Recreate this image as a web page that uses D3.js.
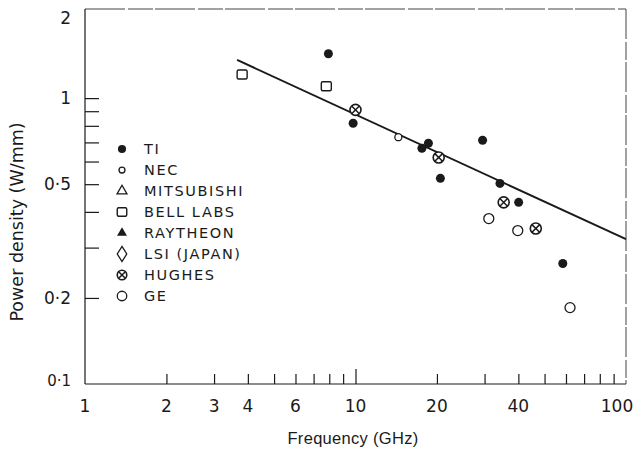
<!DOCTYPE html>
<html>
<head>
<meta charset="UTF-8">
<style>
  body { margin: 0; background: #fff; }
  svg { display: block; }
  text { font-family: "DejaVu Sans", sans-serif; fill: #1a1a1a; }
</style>
</head>
<body>
<svg id="chart" width="639" height="451"></svg>
<script src="https://d3js.org/d3.v7.min.js"></script>
<script>
// readings: [frequency GHz, power density W/mm]
const ti = [[7.94, 1.43], [9.8, 0.817], [17.6, 0.668], [18.6, 0.695], [20.6, 0.524],
            [29.5, 0.712], [34.2, 0.503], [40.1, 0.432], [58.4, 0.264]];
const nec = [[14.4, 0.73]];
const mitsubishi = [];
const bellLabs = [[3.81, 1.21], [7.8, 1.10]];
const raytheon = [];
const lsiJapan = [];
const hughes = [[10, 0.91], [20.3, 0.62], [35.3, 0.432], [46.4, 0.35]];
const ge = [[31.1, 0.379], [39.8, 0.344], [62.1, 0.185]];
const fitLine = [[3.65, 1.36], [100, 0.321]];

const legendNames = ["TI", "NEC", "MITSUBISHI", "BELL LABS", "RAYTHEON", "LSI (JAPAN)", "HUGHES", "GE"];
const xTickLabels = [1, 2, 3, 4, 6, 10, 20, 40, 100];
const yTickLabels = [["2", 2], ["1", 1], ["0·5", 0.5], ["0·2", 0.2], ["0·1", 0.1]];

const svg = d3.select("#chart");
const ink = "#1a1a1a";

const x = d3.scaleLog().domain([1, 100]).range([85, 626]);
const y = d3.scaleLog().domain([0.1, 2.05]).range([384, 9]);

// frame: top and right borders
svg.append("line").attr("x1", x(1)).attr("x2", x(100)).attr("y1", y(2.05)).attr("y2", y(2.05))
  .attr("stroke", "#444").attr("stroke-width", 1).attr("stroke-dasharray", "40 3 25 2");
svg.append("line").attr("x1", x(100)).attr("x2", x(100)).attr("y1", y(2.05)).attr("y2", y(0.1))
  .attr("stroke", "#444").attr("stroke-width", 1).attr("stroke-dasharray", "30 3 18 2");

// bottom axis with inward ticks
const xMinor = [2, 3, 4, 5, 6, 7, 8, 9, 20, 30, 40, 50, 60, 70, 80, 90];
const gx = svg.append("g").attr("transform", `translate(0,${y(0.1)})`)
  .call(d3.axisBottom(x).tickValues(xMinor).tickSize(-10).tickFormat(""));
svg.append("g").attr("transform", `translate(0,${y(0.1)})`)
  .call(d3.axisBottom(x).tickValues([10]).tickSize(-15).tickFormat(""))
  .select(".domain").remove();

// left axis with inward ticks
const yMinor = [0.2, 0.3, 0.4, 0.5, 0.6, 0.7, 0.8, 0.9, 1];
const gy = svg.append("g").attr("transform", `translate(${x(1)},0)`)
  .call(d3.axisLeft(y).tickValues(yMinor).tickSize(-14).tickFormat(""));

svg.selectAll(".domain, .tick line").attr("stroke", ink).attr("stroke-width", 1.2);
gx.select(".domain").attr("d", `M${x(1)},0H${x(100)}`);
gy.select(".domain").attr("d", `M0,${y(0.1)}V${y(2.05)}`);

// tick labels (the 100 sits a little left so it stays on the page)
svg.append("g").selectAll("text").data(xTickLabels).join("text")
  .attr("x", d => d === 100 ? x(d) - 9 : x(d)).attr("y", 412)
  .attr("text-anchor", "middle").attr("font-size", 17)
  .text(d => d);

svg.append("g").selectAll("text").data(yTickLabels).join("text")
  .attr("x", 71).attr("y", d => y(d[1]))
  .attr("dy", d => d[1] === 2 ? "0.7em" : (d[1] === 0.1 ? "0.15em" : "0.36em"))
  .attr("text-anchor", "end").attr("font-size", d => d[1] === 0.1 ? 15 : 17)
  .text(d => d[0]);

// axis titles
svg.append("text").attr("x", 353).attr("y", 444).attr("text-anchor", "middle")
  .style("font-family", "'Liberation Sans', sans-serif")
  .attr("font-size", 16.5).attr("letter-spacing", 0.3).text("Frequency (GHz)");
svg.append("text").attr("transform", "translate(23,222) rotate(-90)").attr("text-anchor", "middle")
  .attr("font-size", 17.5).text("Power density (W/mm)");

// fitted line
svg.append("path").datum(fitLine)
  .attr("d", d3.line().x(d => x(d[0])).y(d => y(d[1])))
  .attr("fill", "none").attr("stroke", ink).attr("stroke-width", 2);

// marker drawing
function marker(g, kind, s) {
  s = s || 1;
  if (kind === "TI") g.append("circle").attr("r", 4.5 * s).attr("fill", ink);
  else if (kind === "NEC") g.append("circle").attr("r", 3.5 * s).attr("fill", "#fff").attr("stroke", ink).attr("stroke-width", 1.3);
  else if (kind === "MITSUBISHI") g.append("path").attr("d", d3.symbol(d3.symbolTriangle, 45 * s)).attr("fill", "none").attr("stroke", ink).attr("stroke-width", 1.3);
  else if (kind === "BELL LABS") g.append("rect").attr("x", -5 * s).attr("y", -4.5 * s).attr("width", 10 * s).attr("height", 9 * s).attr("rx", 1.5).attr("fill", "#fff").attr("stroke", ink).attr("stroke-width", 1.4);
  else if (kind === "RAYTHEON") g.append("path").attr("d", d3.symbol(d3.symbolTriangle, 45 * s)).attr("fill", ink);
  else if (kind === "LSI (JAPAN)") g.append("path").attr("d", `M0,${-8 * s}L${5 * s},0L0,${8 * s}L${-5 * s},0Z`).attr("fill", "none").attr("stroke", ink).attr("stroke-width", 1.3);
  else if (kind === "HUGHES") {
    const r = 5 * s;
    g.append("circle").attr("r", r).attr("fill", "#fff").attr("stroke", ink).attr("stroke-width", 1.6);
    const k = r * 0.7;
    g.append("path").attr("d", `M${-k},${-k}L${k},${k}M${-k},${k}L${k},${-k}`).attr("stroke", ink).attr("stroke-width", 1.5);
  }
  else if (kind === "GE") g.append("circle").attr("r", 5 * s).attr("fill", "#fff").attr("stroke", ink).attr("stroke-width", 1.3);
}

const series = [["TI", ti], ["NEC", nec], ["MITSUBISHI", mitsubishi], ["BELL LABS", bellLabs],
                ["RAYTHEON", raytheon], ["LSI (JAPAN)", lsiJapan], ["HUGHES", hughes], ["GE", ge]];
const pts = svg.append("g");
series.forEach(([name, vals]) => {
  vals.forEach(d => {
    const g = pts.append("g").attr("transform", `translate(${x(d[0])},${y(d[1])})`);
    marker(g, name, name === "HUGHES" ? 1.1 : 1);
  });
});

// legend
const leg = svg.append("g");
legendNames.forEach((name, i) => {
  const row = leg.append("g").attr("transform", `translate(122,${149 + i * 21})`);
  marker(row, name, name === "TI" ? 0.9 : (name === "NEC" ? 0.85 : 0.95));
  row.append("text").attr("x", 22).attr("dy", "0.36em").attr("font-size", 14.5)
    .attr("letter-spacing", 1.6).text(name);
});
</script>
</body>
</html>
